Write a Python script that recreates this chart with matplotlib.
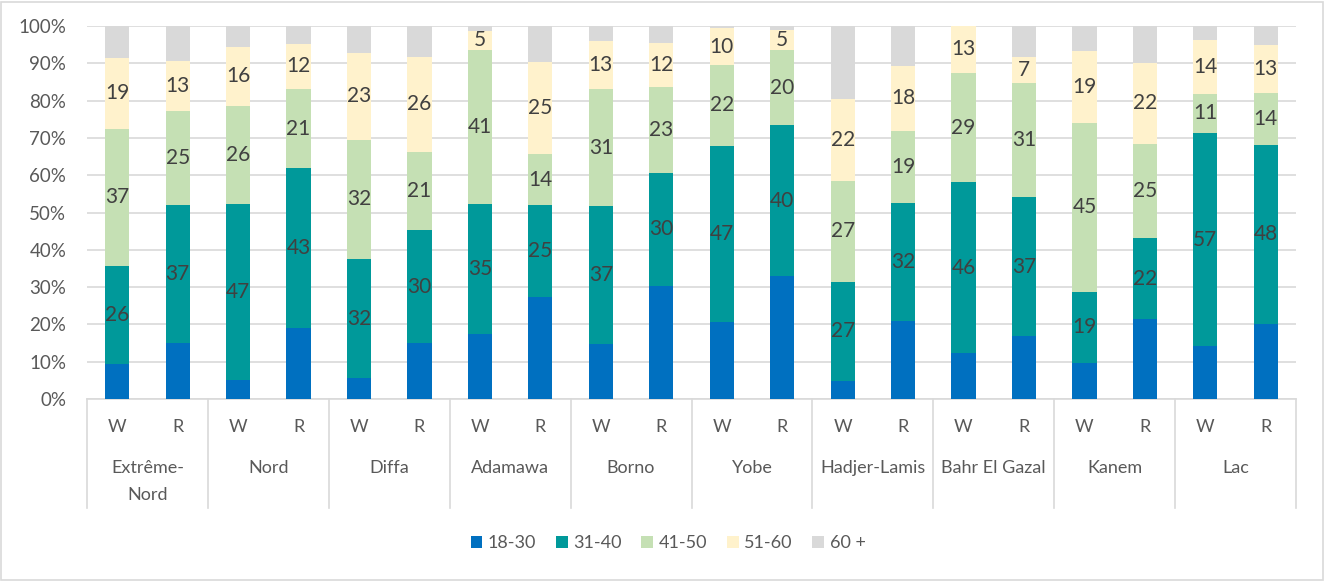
import matplotlib
matplotlib.use("Agg")
import matplotlib.pyplot as plt
import matplotlib.transforms as mtransforms
from matplotlib.patches import Rectangle
import numpy as np

plt.rcParams['font.family'] = ['Lato', 'DejaVu Sans']

regions = ["Extrême-\nNord", "Nord", "Diffa", "Adamawa", "Borno", "Yobe",
           "Hadjer-Lamis", "Bahr El Gazal", "Kanem", "Lac"]
subgroups = ["W", "R"]
series_names = ["18-30", "31-40", "41-50", "51-60", "60 +"]

# values in % (W, R for each region in order)
age_18_30 = [9.4, 15.0, 5.1, 19.0, 5.6, 15.0, 17.5, 27.3, 14.8, 30.3,
             20.7, 33.0, 4.7, 20.9, 12.4, 16.9, 9.6, 21.5, 14.1, 20.1]
age_31_40 = [26.2, 37.0, 47.3, 42.8, 31.9, 30.3, 34.8, 24.6, 36.9, 30.3,
             47.2, 40.4, 26.8, 31.7, 45.7, 37.2, 19.2, 21.6, 57.1, 48.1]
age_41_50 = [36.9, 25.3, 26.2, 21.4, 32.0, 20.9, 41.3, 13.8, 31.3, 23.0,
             21.6, 20.2, 26.9, 19.2, 29.3, 30.6, 45.1, 25.3, 10.7, 13.9]
age_51_60 = [19.0, 13.2, 15.8, 12.1, 23.2, 25.6, 5.1, 24.7, 13.0, 11.9,
             9.9, 5.3, 22.0, 17.6, 12.6, 6.9, 19.4, 21.7, 14.3, 12.7]
age_60p = [8.5, 9.5, 5.6, 4.7, 7.3, 8.2, 1.3, 9.6, 4.0, 4.5,
           0.6, 1.1, 19.6, 10.6, 0.0, 8.4, 6.7, 9.9, 3.8, 5.2]

colors = ["#0070C0", "#00999A", "#C5E0B4", "#FFF2CC", "#D9D9D9"]
label_series = [False, True, True, True, False]

W, H = 1325, 581
fig = plt.figure(figsize=(W / 100, H / 100), dpi=100)
ax = fig.add_axes([87 / W, 1 - 399 / H, (1296 - 87) / W, (399 - 26) / H])

series = [age_18_30, age_31_40, age_41_50, age_51_60, age_60p]
n = len(age_18_30)
x = np.arange(n)
bottom = np.zeros(n)
for vals, col, name, lab in zip(series, colors, series_names, label_series):
    vals = np.array(vals)
    bars = ax.bar(x, vals, width=0.4, bottom=bottom, color=col, label=name,
                  linewidth=0, zorder=3)
    if lab:
        ax.bar_label(bars, fmt='{:.0f}', label_type='center', fontsize=15,
                     color='#404040')
    bottom += vals

ax.set_xlim(-0.5, n - 0.5)
ax.set_ylim(0, 100)
ax.set_yticks(np.arange(0, 101, 10))
ax.set_yticklabels([f"{v}%" for v in range(0, 101, 10)])
ax.tick_params(axis='y', length=0, pad=15, labelsize=13.5, labelcolor='#595959')
ax.set_xticks([])
ax.grid(axis='y', color='#D9D9D9', linewidth=1.2, zorder=0)
for s in ['top', 'right', 'left']:
    ax.spines[s].set_visible(False)
ax.spines['bottom'].set_color('#D9D9D9')
ax.spines['bottom'].set_linewidth(1.2)

trans = mtransforms.blended_transform_factory(ax.transData, ax.transAxes)
ybot = (399 - 508) / (399 - 26)
for k in range(len(regions) + 1):
    xb = 2 * k - 0.5
    ax.plot([xb, xb], [0, ybot], transform=trans, color='#D9D9D9',
            linewidth=1.2, clip_on=False)

y_sub = (399 - 427) / (399 - 26)
for i in range(n):
    ax.text(i, y_sub, subgroups[i % 2], transform=trans, ha='center',
            va='center', fontsize=13, color='#595959')

line_gap = 27 / (399 - 26)
y_grp = (399 - 468) / (399 - 26)
for g, name in enumerate(regions):
    for j, part in enumerate(name.split("\n")):
        ax.text(2 * g + 0.5, y_grp - j * line_gap, part, transform=trans,
                ha='center', va='center', fontsize=13, color='#595959')

handles, labels = ax.get_legend_handles_labels()
fig.legend(handles, labels, loc='center', bbox_to_anchor=(668 / W, 1 - 543 / H),
           ncol=5, frameon=False, fontsize=13, labelcolor='#595959',
           handlelength=0.65, handleheight=0.65, handletextpad=0.3,
           columnspacing=1.1)

fig.patches.append(Rectangle((1 / W, 1 / H), 1 - 3 / W, 1 - 3 / H,
                             transform=fig.transFigure, fill=False,
                             edgecolor='#D9D9D9', linewidth=1.2))

fig.savefig("out.png", dpi=100)
